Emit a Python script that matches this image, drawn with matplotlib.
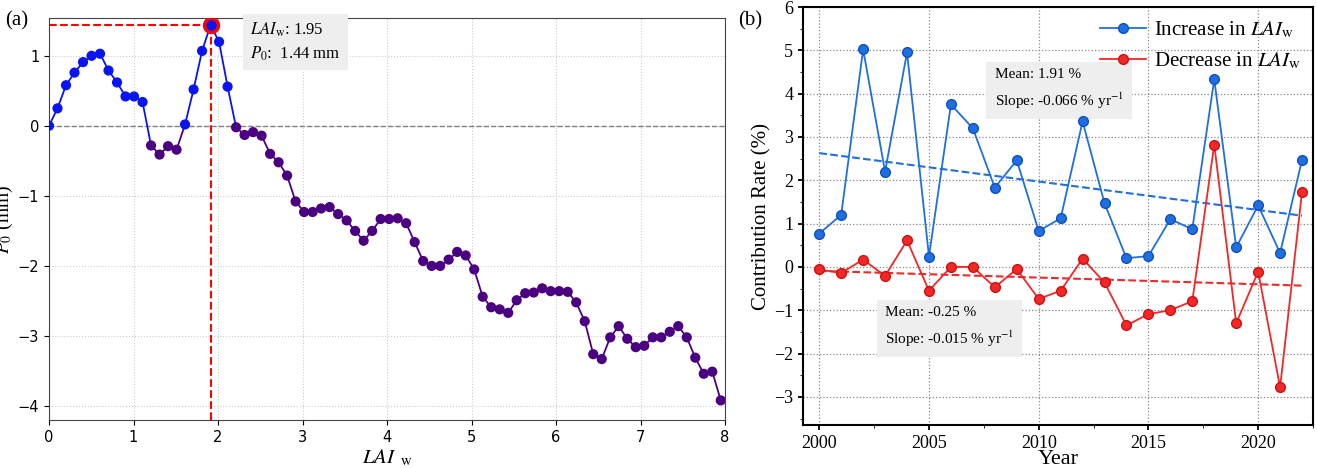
import numpy as np
import matplotlib
matplotlib.use("Agg")
import matplotlib.pyplot as plt
from matplotlib.ticker import MultipleLocator

plt.rcParams["mathtext.fontset"] = "stix"

p0 = [0.0, 0.25, 0.58, 0.76, 0.91, 1.0, 1.03, 0.79, 0.62, 0.42, 0.42, 0.34, -0.28, -0.41, -0.29, -0.34,
      0.02, 0.52, 1.07, 1.44, 1.2, 0.56, -0.02, -0.13, -0.09, -0.14, -0.40, -0.52, -0.71, -1.08,
      -1.23, -1.23, -1.18, -1.16, -1.26, -1.35, -1.50, -1.64,
      -1.50, -1.33, -1.33, -1.32, -1.39, -1.66, -1.93, -2.0, -2.0, -1.91, -1.80, -1.85, -2.05, -2.44,
      -2.59, -2.62, -2.67, -2.49, -2.39, -2.38, -2.32, -2.36, -2.36, -2.37, -2.52, -2.79, -3.26, -3.33,
      -3.02, -2.86, -3.04, -3.16, -3.14, -3.02, -3.02, -2.94, -2.86, -3.02, -3.31, -3.54, -3.51, -3.92]
lai = np.linspace(0, 7.95, len(p0))
peak_lai, peak_p0 = 1.95, 1.44

years = list(range(2000, 2023))
inc = [0.77, 1.2, 5.02, 2.2, 4.95, 0.24, 3.75, 3.2, 1.83, 2.46, 0.83, 1.12, 3.36, 1.47, 0.2, 0.25, 1.1, 0.87,
       4.33, 0.45, 1.42, 0.32, 2.47]
dec = [-0.06, -0.14, 0.17, -0.21, 0.61, -0.55, 0.0, 0.0, -0.47, -0.05, -0.74, -0.55, 0.19, -0.36, -1.35,
       -1.09, -1.0, -0.79, 2.82, -1.3, -0.11, -2.78, 1.73]

serif = "Liberation Serif"
fig = plt.figure(figsize=(13.17, 4.68), dpi=100)
W, H = 1317, 468
ax1 = fig.add_axes([49 / W, 1 - 420 / H, (725 - 49) / W, (420 - 18) / H])
ax2 = fig.add_axes([803 / W, 1 - 425 / H, (1313 - 803) / W, (425 - 7) / H])

# ---- panel (a)
blue, purple = "#0a14f0", "#4b0082"
p = np.array(p0)
for i in range(len(p) - 1):
    c = blue if p[i] >= 0 else purple
    ax1.plot(lai[i:i + 2], p[i:i + 2], color=c, lw=1.3, zorder=3)
cols = [blue if v >= 0 else purple for v in p]
ax1.scatter(lai, p, c=cols, s=40, zorder=4)
ax1.axhline(0, color="gray", ls="--", lw=1, zorder=2)
ax1.plot([0, lai[19]], [peak_p0, peak_p0], color="red", ls="--", lw=1.5, zorder=2)
ax1.plot([lai[19], lai[19]], [-4.2, peak_p0], color="red", ls="--", lw=1.5, zorder=2)
ax1.scatter([lai[19]], [p[19]], s=100, facecolor=blue, edgecolor="red", linewidth=2.5, zorder=5)
ax1.set_xlim(0, 8)
ax1.set_ylim(-4.2, 1.54)
ax1.set_yticks([-4, -3, -2, -1, 0, 1])
ax1.grid(True, color="#cccccc", ls=":", lw=0.8)
ax1.set_xlabel(r"$LAI$ $_{\mathrm{w}}$", fontsize=15, labelpad=2)
ax1.set_ylabel(r"$P_0$ (mm)", fontsize=14, family=serif, labelpad=2)
ax1.text(2.38, 1.2, "$LAI_\\mathrm{w}$: %.2f\n$P_0$:  %.2f mm" % (peak_lai, peak_p0), fontsize=12,
         family=serif, va="center", linespacing=1.4,
         bbox=dict(facecolor="#eeeeee", edgecolor="none", pad=5))
fig.text(5 / W, 1 - 25 / H, "(a)", fontsize=15, family=serif)
for s in ax1.spines.values():
    s.set_color("#444444")
for lab in ax1.get_xticklabels() + ax1.get_yticklabels():
    lab.set_fontsize(10.5)

# ---- panel (b)
cb, cr = "#1f6fe0", "#f02828"
ax2.plot(years, inc, "-o", color=cb, ms=7, lw=1.3, mec="#1050c0", label=r"Increase in $LAI_\mathrm{w}$", zorder=4)
ax2.plot(years, dec, "-o", color=cr, ms=7, lw=1.3, mec="#d01010", label=r"Decrease in $LAI_\mathrm{w}$", zorder=4)
yr = np.array(years)
for d, c in ((inc, cb), (dec, cr)):
    k, b = np.polyfit(yr, d, 1)
    ax2.plot(yr, k * yr + b, "--", color=c, lw=1.5, zorder=3)
ax2.set_xlim(1999.26, 2022.5)
ax2.set_ylim(-3.65, 6)
ax2.xaxis.set_major_locator(MultipleLocator(5))
ax2.xaxis.set_minor_locator(MultipleLocator(2.5))
ax2.yaxis.set_major_locator(MultipleLocator(1))
ax2.yaxis.set_minor_locator(MultipleLocator(0.5))
ax2.grid(True, color="#888888", ls=":", lw=0.9)
for lab in ax2.get_xticklabels() + ax2.get_yticklabels():
    lab.set_family(serif)
    lab.set_fontsize(13)
ax2.tick_params(width=1.3)
for s in ax2.spines.values():
    s.set_linewidth(1.5)
ax2.set_xlabel("Year", fontsize=16, family=serif, labelpad=-1)
ax2.set_ylabel("Contribution Rate (%)", fontsize=15, family=serif, labelpad=2)
ax2.legend(loc="upper right", frameon=False, prop={"family": serif, "size": 15},
           handlelength=2.2, borderaxespad=0.2, handletextpad=0.4)
ax2.text(2008.0, 4.1, "Mean: 1.91 %\nSlope: -0.066 % yr$^{-1}$", fontsize=11, family=serif,
         va="center", linespacing=1.6,
         bbox=dict(facecolor="#eeeeee", edgecolor="none", pad=6))
ax2.text(2003.0, -1.4, "Mean: -0.25 %\nSlope: -0.015 % yr$^{-1}$", fontsize=11, family=serif,
         va="center", linespacing=1.6,
         bbox=dict(facecolor="#eeeeee", edgecolor="none", pad=6))
fig.text(738 / W, 1 - 25 / H, "(b)", fontsize=15, family=serif)

fig.savefig("out.png", dpi=100)
